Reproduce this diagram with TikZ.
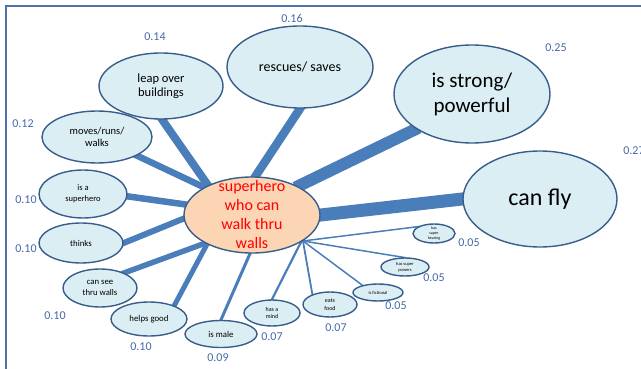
\documentclass[tikz,border=0pt]{standalone}
\usepackage{fontspec}
\setmainfont{Carlito}
\usetikzlibrary{shapes.geometric,backgrounds}

\definecolor{linkblue}{RGB}{74,126,187}
\definecolor{ovalfill}{RGB}{219,238,244}
\definecolor{ovaldraw}{RGB}{56,93,138}
\definecolor{hubfill}{RGB}{252,213,181}
\definecolor{valblue}{RGB}{68,104,166}
\definecolor{framecol}{RGB}{79,114,170}
\newcommand{\fsz}[2]{\fontsize{#1}{#2}\selectfont}

\begin{document}
\begin{tikzpicture}[
			x=1pt, y=1pt,
			oval/.style={ellipse, draw=ovaldraw, line width=1.4pt, fill=ovalfill, inner sep=0pt, align=center},
			value/.style={text=valblue, inner sep=1pt, font=\fsz{12}{14}},
			link/.style={draw=linkblue, shorten <=-3pt, shorten >=-3pt}
	]
	\useasboundingbox (0,0) rectangle (641,368);
	\draw [framecol, line width=1.6pt] (6,-10) -- (6,362) -- (660,362);

		\node (hub) [oval, fill=hubfill, text=red, minimum width=136pt, minimum height=76pt, inner ysep=-12pt, font=\fsz{16}{19}] at (252,153) {superhero\\who can\\walk thru\\walls};

		\node (leap) [oval, minimum width=124pt, minimum height=66pt, font=\fsz{12.5}{14.5}] at (161,282) {leap over\\buildings};
		\node (rescues) [oval, minimum width=146pt, minimum height=82pt, font=\fsz{14}{16}] at (300,301) {rescues/ saves};
		\node (strong) [oval, minimum width=156pt, minimum height=98pt, font=\fsz{21}{25}] at (472,274) {is strong/\\powerful};
		\node (fly) [oval, minimum width=154pt, minimum height=96pt, font=\fsz{24}{28}] at (540,169) {can fly};
		\node (moves) [oval, minimum width=110pt, minimum height=52pt, font=\fsz{10.5}{12.5}] at (97,231) {moves/runs/\\walks};
		\node (isahero) [oval, minimum width=88pt, minimum height=48pt, font=\fsz{8.5}{11}] at (83,174) {is a\\superhero};
		\node (thinks) [oval, minimum width=84pt, minimum height=40pt, font=\fsz{8.8}{11}] at (81,125) {thinks};
		\node (seewalls) [oval, minimum width=74pt, minimum height=38pt, font=\fsz{8.7}{11}] at (100,80) {can see\\thru walls};
		\node (helps) [oval, minimum width=76pt, minimum height=34pt, font=\fsz{8.8}{11}] at (149,49) {helps good};
		\node (male) [oval, minimum width=72pt, minimum height=27pt, font=\fsz{8.8}{11}] at (221,34) {is male};
		\node (mind) [oval, minimum width=56pt, minimum height=26pt, font=\fsz{6}{6.7}] at (272,55) {has a\\mind};
		\node (eats) [oval, minimum width=54pt, minimum height=25pt, font=\fsz{6}{7.5}] at (330,63.5) {eats\\food};
		\node (fictional) [oval, minimum width=50pt, minimum height=17pt, font=\fsz{4.6}{5.5}] at (378,75.5) {is fictional};
		\node (powers) [oval, minimum width=48pt, minimum height=18pt, font=\fsz{4.5}{6}] at (405,101) {has super\\powers};
		\node (hearing) [oval, minimum width=42pt, minimum height=19pt, inner ysep=-2pt, font=\fsz{4}{5.3}] at (434,134.5) {has\\super\\hearing};

		\node (vleap) [value] at (155,331) {0.14};
		\node (vrescues) [value] at (292,350) {0.16};
		\node (vstrong) [value] at (556,320) {0.25};
		\node (vfly) [value] at (634,217) {0.27};
		\node (vmoves) [value] at (23,244) {0.12};
		\node (visahero) [value] at (26,168) {0.10};
		\node (vthinks) [value] at (26,119) {0.10};
		\node (vseewalls) [value] at (55,52) {0.10};
		\node (vhelps) [value] at (141,21) {0.10};
		\node (vmale) [value] at (218,10) {0.09};
		\node (vmind) [value] at (272,31) {0.07};
		\node (veats) [value] at (336,40) {0.07};
		\node (vfictional) [value] at (396,62) {0.05};
		\node (vpowers) [value] at (434,90) {0.05};
		\node (vhearing) [value] at (469,125) {0.05};

	\begin{scope}[on background layer]
		\draw [link, line width=13pt] (hub.east) -- (fly.180);
		\draw [link, line width=12pt] (hub.32) -- (strong.212);
		\draw [link, line width=8.5pt] (hub.85) -- (rescues.south);
		\draw [link, line width=8pt] (hub.146) -- (leap.272);
		\draw [link, line width=6.5pt] (hub.150) -- (moves.335);
		\draw [link, line width=6.5pt] (hub.171) -- (isahero.357);
		\draw [link, line width=6pt] (hub.183) -- (thinks.east);
		\draw [link, line width=5.5pt] (hub.211) -- (seewalls.32);
		\draw [link, line width=5pt] (hub.213) -- (helps.28);
		\draw [link, line width=3pt] (hub.267) -- (male.north);
		\draw [link, line width=2.2pt] (hub.331) -- (mind.north);
		\draw [link, line width=1.8pt] (hub.333) -- (eats.150);
		\draw [link, line width=1.5pt] (hub.333) -- (fictional.155);
		\draw [link, line width=1.5pt] (hub.333) -- (powers.100);
		\draw [link, line width=1.5pt] (hub.333) -- (hearing.157);
	\end{scope}
	\end{tikzpicture}
\end{document}
